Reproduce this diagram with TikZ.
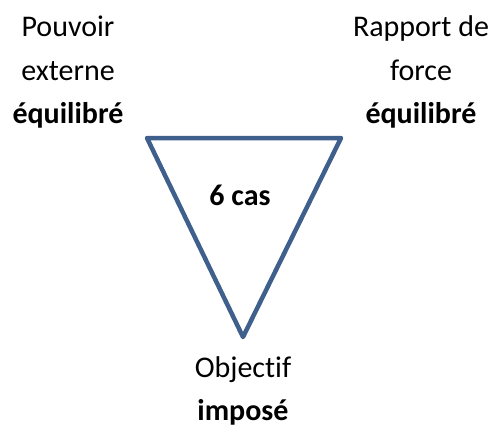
\documentclass[tikz,border=0pt]{standalone}
\usepackage{fontspec}
\setmainfont[Ligatures={NoCommon,NoRare,NoContextual}]{Carlito}
\definecolor{triblue}{HTML}{3F5F8C}
\begin{document}
\begin{tikzpicture}[x=1pt,y=-1pt,
  lbl/.style={align=center,inner sep=0pt,anchor=base,font=\fontsize{30}{43}\selectfont},
  tri/.style={draw=triblue,line width=4.5pt,line join=round}]
\useasboundingbox (0,0) rectangle (494,425);
\coordinate (tl) at (147,138);
\coordinate (tr) at (341,138);
\coordinate (bt) at (243,337);
\draw[tri] (tl) -- (tr) -- (bt) -- cycle;
\node[lbl] (left) at (68,123) {Pouvoir\\externe\\\textbf{équilibré}};
\node[lbl] (right) at (421,123) {Rapport de\\force\\\textbf{équilibré}};
\node[lbl] (bottom) at (243,420) {Objectif\\\textbf{imposé}};
\node[lbl] (mid) at (240,205) {\textbf{6 cas}};
\end{tikzpicture}
\end{document}
